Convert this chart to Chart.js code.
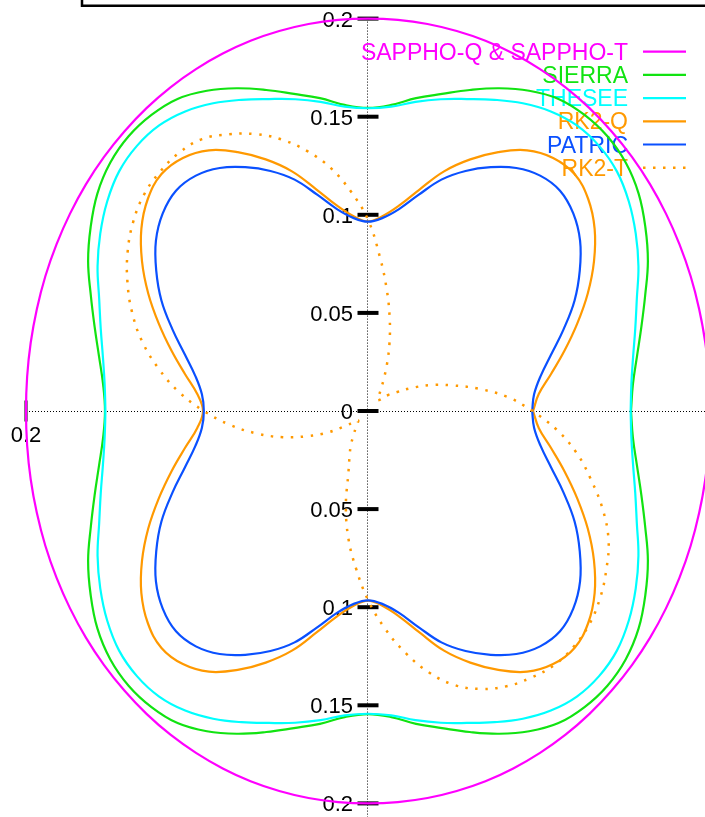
<!DOCTYPE html>
<html>
<head>
<meta charset="utf-8">
<script src="https://cdn.jsdelivr.net/npm/chart.js@4"></script>
<style>
html, body { margin: 0; padding: 0; background: #fff; overflow: hidden; }
canvas { display: block; }
</style>
</head>
<body>
<canvas id="grafico" width="705" height="817"></canvas>
<script>
// polar angles in degrees, shared by all the curves
const angles = [0,5,10,15,20,25,30,35,40,45,50,55,60,65,70,75,80,85,
  90,95,100,105,110,115,120,125,130,135,140,145,150,155,160,165,170,175,
  180,185,190,195,200,205,210,215,220,225,230,235,240,245,250,255,260,265,
  270,275,280,285,290,295,300,305,310,315,320,325,330,335,340,345,350,355];

// radius for every angle
const sappho = [0.2000,0.2001,0.2003,0.2005,0.2008,0.2010,0.2012,0.2014,0.2015,0.2015,0.2015,0.2014,0.2012,0.2010,0.2008,0.2005,0.2003,0.2001,
  0.2000,0.2001,0.2003,0.2005,0.2008,0.2010,0.2012,0.2014,0.2015,0.2015,0.2015,0.2014,0.2012,0.2010,0.2008,0.2005,0.2003,0.2001,
  0.2000,0.2001,0.2003,0.2005,0.2008,0.2010,0.2012,0.2014,0.2015,0.2015,0.2015,0.2014,0.2012,0.2010,0.2008,0.2005,0.2003,0.2001,
  0.2000,0.2001,0.2003,0.2005,0.2008,0.2010,0.2012,0.2014,0.2015,0.2015,0.2015,0.2014,0.2012,0.2010,0.2008,0.2005,0.2003,0.2001];

const sierra = [0.1538,0.1555,0.1597,0.1655,0.1725,0.1806,0.1873,0.1932,0.1968,0.1980,0.1970,0.1942,0.1885,0.1815,0.1741,0.1673,0.1619,0.1566,0.1545,
  0.1566,0.1619,0.1673,0.1741,0.1815,0.1885,0.1942,0.1970,0.1980,0.1968,0.1932,0.1873,0.1806,0.1725,0.1655,0.1597,0.1555,0.1538,
  0.1555,0.1597,0.1655,0.1725,0.1806,0.1873,0.1932,0.1968,0.1980,0.1970,0.1942,0.1885,0.1815,0.1741,0.1673,0.1619,0.1566,0.1545,
  0.1566,0.1619,0.1673,0.1741,0.1815,0.1885,0.1942,0.1970,0.1980,0.1968,0.1932,0.1873,0.1806,0.1725,0.1655,0.1597,0.1555];

const thesee = [0.1536,0.1546,0.1574,0.1618,0.1673,0.1745,0.1808,0.1862,0.1900,0.1911,0.1900,0.1864,0.1811,0.1750,0.1692,0.1645,0.1600,0.1557,0.1543,
  0.1557,0.1600,0.1645,0.1692,0.1750,0.1811,0.1864,0.1900,0.1911,0.1900,0.1862,0.1808,0.1745,0.1673,0.1618,0.1574,0.1546,0.1536,
  0.1546,0.1574,0.1618,0.1673,0.1745,0.1808,0.1862,0.1900,0.1911,0.1900,0.1864,0.1811,0.1750,0.1692,0.1645,0.1600,0.1557,0.1543,
  0.1557,0.1600,0.1645,0.1692,0.1750,0.1811,0.1864,0.1900,0.1911,0.1900,0.1862,0.1808,0.1745,0.1673,0.1618,0.1574,0.1546];

const rk2q = [0.0965,0.1003,0.1087,0.1190,0.1302,0.1418,0.1526,0.1618,0.1681,0.1708,0.1684,0.1622,0.1524,0.1415,0.1300,0.1170,0.1065,0.0998,0.0966,
  0.0998,0.1065,0.1170,0.1300,0.1415,0.1524,0.1622,0.1684,0.1708,0.1681,0.1618,0.1526,0.1418,0.1302,0.1190,0.1087,0.1003,0.0965,
  0.1003,0.1087,0.1190,0.1302,0.1418,0.1526,0.1618,0.1681,0.1708,0.1684,0.1622,0.1524,0.1415,0.1300,0.1170,0.1065,0.0998,0.0966,
  0.0998,0.1065,0.1170,0.1300,0.1415,0.1524,0.1622,0.1684,0.1708,0.1681,0.1618,0.1526,0.1418,0.1302,0.1190,0.1087,0.1003];

const patric = [0.0960,0.0975,0.1025,0.1108,0.1217,0.1333,0.1430,0.1514,0.1567,0.1588,0.1566,0.1512,0.1435,0.1350,0.1255,0.1140,0.1045,0.0988,0.0965,
  0.0988,0.1045,0.1140,0.1255,0.1350,0.1435,0.1512,0.1566,0.1588,0.1567,0.1514,0.1430,0.1333,0.1217,0.1108,0.1025,0.0975,0.0960,
  0.0975,0.1025,0.1108,0.1217,0.1333,0.1430,0.1514,0.1567,0.1588,0.1566,0.1512,0.1435,0.1350,0.1255,0.1140,0.1045,0.0988,0.0965,
  0.0988,0.1045,0.1140,0.1255,0.1350,0.1435,0.1512,0.1566,0.1588,0.1567,0.1514,0.1430,0.1333,0.1217,0.1108,0.1025,0.0975];

const rk2t = [0.0965,0.0820,0.0655,0.0505,0.0385,0.0275,0.0190,0.0140,0.0088,0.0078,0.0095,0.0128,0.0180,0.0262,0.0367,0.0490,0.0630,0.0790,
  0.0975,0.1120,0.1258,0.1371,0.1472,0.1557,0.1628,0.1692,0.1718,0.1722,0.1712,0.1677,0.1623,0.1552,0.1468,0.1367,0.1243,0.1110,
  0.0960,0.0810,0.0660,0.0515,0.0375,0.0258,0.0150,0.0095,0.0075,0.0085,0.0110,0.0145,0.0200,0.0255,0.0335,0.0500,0.0660,0.0805,
  0.0963,0.1110,0.1250,0.1380,0.1487,0.1563,0.1620,0.1660,0.1692,0.1700,0.1690,0.1658,0.1610,0.1552,0.1460,0.1350,0.1240,0.1110];

const names = ['SAPPHO-Q & SAPPHO-T', 'SIERRA', 'THESEE', 'RK2-Q', 'PATRIC', 'RK2-T'];
const colors = ['#ff00ff', '#11e311', '#00ffff', '#ff9900', '#0a50ff', '#ff9900'];

// tick marks on the vertical axis and their labels
const yTicks = [0.2, 0.15, 0.1, 0.05, 0, -0.05, -0.1, -0.15, -0.2];
const yTickLabels = ['0.2', '0.15', '0.1', '0.05', '0', '0.05', '0.1', '0.15', '0.2'];
const xTicks = [-0.2];
const xTickLabels = ['0.2'];

const series = [sappho, sierra, thesee, rk2q, patric, rk2t];
const rad = Math.PI / 180;

function toXY(r) {
  const pts = angles.map((a, i) => ({ x: r[i] * Math.cos(a * rad), y: r[i] * Math.sin(a * rad) }));
  pts.push(pts[0]);
  return pts;
}

const fonte = '22px "Liberation Sans", Arial, sans-serif';
const fonteChave = '23px "Liberation Sans", Arial, sans-serif';

// pixel layout: origin at (368, 411), 1710 px per unit across, 1962 px per unit up
const cx = 368, cy = 411, kx = 1710, ky = 1962;

const eixos = {
  id: 'eixos',
  beforeDatasetsDraw(chart) {
    const ctx = chart.ctx;
    const sx = chart.scales.x, sy = chart.scales.y;
    const x0 = sx.getPixelForValue(0), y0 = sy.getPixelForValue(0);
    ctx.save();

    // frame edge at the top
    ctx.strokeStyle = '#000';
    ctx.lineWidth = 2.5;
    ctx.beginPath();
    ctx.moveTo(82, 0);
    ctx.lineTo(82, 5.7);
    ctx.lineTo(705, 5.7);
    ctx.stroke();

    // dotted zero lines
    ctx.lineWidth = 1;
    ctx.setLineDash([1, 2]);
    ctx.beginPath();
    ctx.moveTo(sx.getPixelForValue(-0.2), y0 + 0.5);
    ctx.lineTo(chart.width, y0 + 0.5);
    ctx.moveTo(x0 - 0.5, sy.getPixelForValue(0.2));
    ctx.lineTo(x0 - 0.5, chart.height);
    ctx.stroke();
    ctx.setLineDash([]);

    // ticks on the vertical axis
    ctx.font = fonte;
    ctx.fillStyle = '#000';
    ctx.textAlign = 'right';
    ctx.textBaseline = 'alphabetic';
    yTicks.forEach((v, i) => {
      const py = sy.getPixelForValue(v);
      ctx.lineWidth = 4;
      ctx.beginPath();
      ctx.moveTo(x0 - 10.5, py);
      ctx.lineTo(x0 + 10.5, py);
      ctx.stroke();
      ctx.fillText(yTickLabels[i], x0 - 15, py + 8);
    });

    // ticks on the horizontal axis
    ctx.textAlign = 'center';
    xTicks.forEach((v, i) => {
      const px = sx.getPixelForValue(v);
      ctx.lineWidth = 3;
      ctx.beginPath();
      ctx.moveTo(px, y0 - 10.5);
      ctx.lineTo(px, y0 + 10.5);
      ctx.stroke();
      ctx.fillText(xTickLabels[i], px, y0 + 31);
    });

    // key
    ctx.font = fonteChave;
    ctx.textAlign = 'right';
    names.forEach((n, i) => {
      const ly = 51.7 + 23.2 * i;
      ctx.fillStyle = colors[i];
      ctx.fillText(n, 628, ly + 8);
      ctx.strokeStyle = colors[i];
      if (i === 5) {
        ctx.lineWidth = 2.5;
        ctx.setLineDash([2.5, 7.5]);
      } else {
        ctx.lineWidth = 2.2;
        ctx.setLineDash([]);
      }
      ctx.beginPath();
      ctx.moveTo(643, ly);
      ctx.lineTo(686, ly);
      ctx.stroke();
    });
    ctx.restore();
  }
};

// first dataset is drawn on top, so the list runs from last plotted to first
const datasets = series.map((r, i) => ({
  label: names[i],
  data: toXY(r),
  showLine: true,
  borderColor: colors[i],
  backgroundColor: colors[i],
  borderWidth: i === 5 ? 2.5 : 2.2,
  borderDash: i === 5 ? [2.5, 7.5] : [],
  borderCapStyle: 'butt',
  pointRadius: 0,
  tension: 0.4,
  fill: false
})).reverse();

new Chart(document.getElementById('grafico').getContext('2d'), {
  type: 'scatter',
  data: { datasets: datasets },
  options: {
    responsive: false,
    animation: false,
    events: [],
    layout: { padding: 0 },
    plugins: { legend: { display: false }, tooltip: { enabled: false } },
    scales: {
      x: { type: 'linear', display: false, min: -cx / kx, max: (705 - cx) / kx },
      y: { type: 'linear', display: false, min: -(817 - cy) / ky, max: cy / ky }
    }
  },
  plugins: [eixos]
});
</script>
</body>
</html>
